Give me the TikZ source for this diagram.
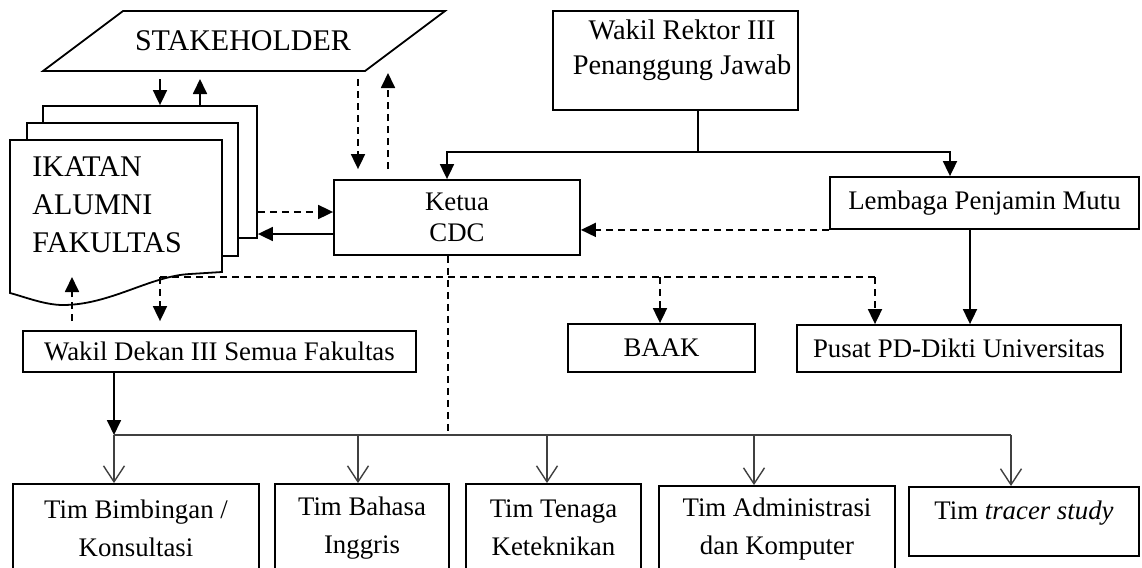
\documentclass[tikz,border=0pt]{standalone}
\usepackage{fontspec}
\setmainfont{Liberation Serif}
\usetikzlibrary{arrows.meta}
\tikzset{ page/.style = { rectangle % lembar dokumen
        , draw
        , line width = 0.9pt
        , fill = white
        , inner sep = 0pt
        }
        , label_text/.style = { inner sep = 0pt % teks lepas
        , align = center
        }
        }

\begin{document}
\begin{tikzpicture}[x=0.5pt, y=-0.5pt, font=\fontsize{13.4}{19}\selectfont,
        box_style/.style={rectangle,draw,line width=0.9pt,inner sep=0pt,align=center},
        edge_style/.style={line width=0.9pt,-{Triangle[length=7.5pt,width=7pt]}},
        dashed_edge_style/.style={edge_style,dash pattern=on 3.5pt off 2.5pt},
        dashed_line_style/.style={line width=0.9pt,dash pattern=on 3.5pt off 2.5pt},
        team_edge_style/.style={line width=0.7pt,draw=black!75,-{Straight Barb[length=8pt,width=10.5pt]}}]
        \useasboundingbox (0,0) rectangle (1142,568);
        \clip (0,0) rectangle (1142,568);

        % stakeholder
        \draw [line width=0.9pt] (123,11) -- (445,11) -- (365,71) -- (43,71) -- cycle;
        \node [label_text,font=\fontsize{15}{19}\selectfont] (sh) at (243,41) {STAKEHOLDER};

        % ikatan alumni (tiga lembar)
        \node [page,minimum width=107pt,minimum height=66pt] (al3) at (150,172) {};
        \node [page,minimum width=105.5pt,minimum height=66.5pt] (al2) at (132.5,189.5) {};
        \draw [line width=0.9pt,fill=white] (10,140) -- (222,140) -- (222,272) -- (190,274)
            .. controls (150,276) and (110,305) .. (63,305)
            .. controls (45,305) and (25,297) .. (10,293) -- cycle;
        \node [label_text,align=left,anchor=west,font=\fontsize{15}{19}\selectfont] (al) at (32,205) {IKATAN\\ALUMNI\\FAKULTAS};

        % kotak
        \node [box_style,minimum width=122.5pt,minimum height=49.5pt] (wr) at (675.5,60.5) {};
        \node [label_text,font=\fontsize{14.2}{17.5}\selectfont] (wr_t) at (682,50) {Wakil Rektor III\\Penanggung Jawab};
        \node [box_style,minimum width=123pt,minimum height=37.5pt,font=\fontsize{13.4}{15.25}\selectfont] (ketua) at (457,217.5) {Ketua\\CDC};
        \node [box_style,minimum width=154.5pt,minimum height=26pt] (lpm) at (984.5,203) {Lembaga Penjamin Mutu};
        \node [box_style,minimum width=196.5pt,minimum height=20.5pt] (wd) at (219.5,351.5) {Wakil Dekan III Semua Fakultas};
        \node [box_style,minimum width=93.5pt,minimum height=24pt] (baak) at (661.5,348) {BAAK};
        \node [box_style,minimum width=162pt,minimum height=23.5pt] (pusat) at (959,348.5) {Pusat PD-Dikti Universitas};

        \node [box_style,minimum width=123pt,minimum height=44pt] (bim) at (136,528) {Tim Bimbingan /\\Konsultasi};
        \node [box_style,minimum width=87pt,minimum height=44pt] (bhs) at (362,528) {Tim Bahasa\\Inggris};
        \node [box_style,minimum width=87.5pt,minimum height=44pt] (ten) at (553.5,528) {Tim Tenaga\\Keteknikan};
        \node [box_style,minimum width=118pt,minimum height=43pt] (adm) at (777,529) {Tim Administrasi\\dan Komputer};
        \node [box_style,minimum width=115pt,text height=16.5pt,text depth=18pt,anchor=north] (trc) at (1024,486) {Tim \textit{tracer study}};

        % garis dari wakil rektor
        \coordinate (wr_j) at (698,152);
        \draw [line width=0.9pt] (wr.south -| wr_j) -- (wr_j);
        \draw [edge_style] (wr_j) -| ([xshift=-5pt]ketua.north);
        \draw [edge_style] (wr_j) -| ([xshift=-17.25pt]lpm.north);
        \draw [dashed_edge_style] (lpm.south west) -- (lpm.south west -| ketua.east);
        \draw [edge_style] ([xshift=-7.25pt]lpm.south) -- ([xshift=-7.25pt]lpm.south |- pusat.north);

        % stakeholder <-> alumni, ketua
        \draw [edge_style] (160,79) -- (160,79 |- al3.north);
        \draw [edge_style] (200,106 |- al3.north) -- (200,79);
        \draw [dashed_edge_style,shorten >=5pt] (358,79) -- (358,79 |- ketua.north);
        \draw [dashed_edge_style,shorten <=5pt] (388,0 |- ketua.north) -- (388,73);

        % alumni <-> ketua
        \draw [dashed_edge_style] (al3.east |- 0,212) -- (ketua.west |- 0,212);
        \draw [edge_style] (ketua.west |- 0,234) -- (al3.east |- 0,234);

        % koordinasi ketua
        \draw [dashed_line_style] (160,277) -- (875,277);
        \draw [dashed_edge_style,shorten >=4.5pt] (160,277) -- (160,277 |- wd.north);
        \draw [dashed_edge_style] (660,277) -- (660,277 |- baak.north);
        \draw [dashed_edge_style] (875,277) -- (875,277 |- pusat.north);
        \draw [dashed_edge_style,shorten <=4.5pt] (72,0 |- wd.north) -- (72,277);
        \draw [dashed_line_style] (ketua.south -| 448,0) -- (448,435);

        % tim
        \draw [edge_style] (114,0 |- wd.south) -- (114,435);
        \draw [line width=0.7pt,black!75] (114,435) -- (1011,435);
        \foreach \x/\t in {114/bim,358/bhs,547/ten,754/adm,1011/trc}
            \draw [team_edge_style] (\x,435) -- (\x,435 |- \t.north);
\end{tikzpicture}
\end{document}
